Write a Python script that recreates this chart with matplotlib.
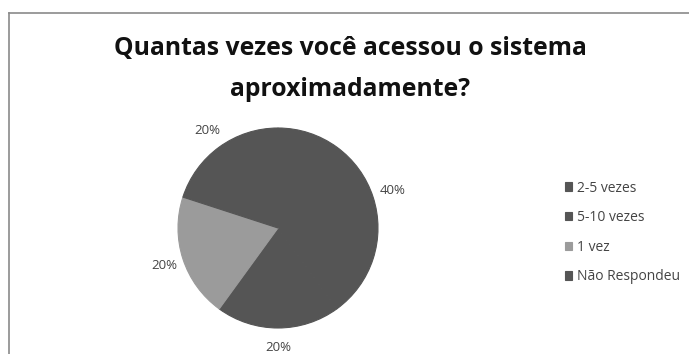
import matplotlib.pyplot as plt
from matplotlib.lines import Line2D

categorias = ["2-5 vezes", "5-10 vezes", "1 vez", "Não Respondeu"]
percentuais = [40, 20, 20, 20]
cores = ["#555555", "#555555", "#9b9b9b", "#555555"]
titulo = "Quantas vezes você acessou o sistema\naproximadamente?"

W, H = 689, 354
fig = plt.figure(figsize=(W / 100, H / 100), dpi=100)
fig.patch.set_facecolor("white")

# moldura do gráfico (só topo e esquerda aparecem)
fig.add_artist(Line2D([9 / W, 1], [1 - 13 / H, 1 - 13 / H], color="#8a8a8a", lw=1.2))
fig.add_artist(Line2D([9 / W, 9 / W], [0, 1 - 13 / H], color="#8a8a8a", lw=1.2))

fig.text(350 / W, 1 - 69 / H, titulo, ha="center", va="center",
         fontsize=17.8, fontweight="bold", family="Open Sans",
         color="#111111", linespacing=1.8)

# pizza: centro ~ (278, 228) px, raio ~100 px
cx, cy, r = 278, 228, 100
ax = fig.add_axes([(cx - r) / W, 1 - (cy + r) / H, 2 * r / W, 2 * r / H])
wedges, _, autotexts = ax.pie(percentuais, colors=cores, startangle=90,
                              counterclock=False, autopct="%d%%",
                              pctdistance=1.2, radius=1,
                              wedgeprops=dict(linewidth=0.8))
for w, c in zip(wedges, cores):
    w.set_edgecolor(c)
for t in autotexts:
    t.set_fontsize(9.5)
    t.set_color("#444444")
    t.set_family("Open Sans")
ax.set_xlim(-1, 1)
ax.set_ylim(-1, 1)
ax.set_aspect("equal")
ax.axis("off")

leg = fig.legend(wedges, categorias, loc="upper left",
                 bbox_to_anchor=(552 / W, 1 - 168 / H),
                 frameon=False, handlelength=0.55, handleheight=0.55,
                 handletextpad=0.35, labelspacing=1.05,
                 prop=dict(family="Open Sans", size=10))
for t in leg.get_texts():
    t.set_color("#444444")

fig.savefig("out.png", dpi=100)
